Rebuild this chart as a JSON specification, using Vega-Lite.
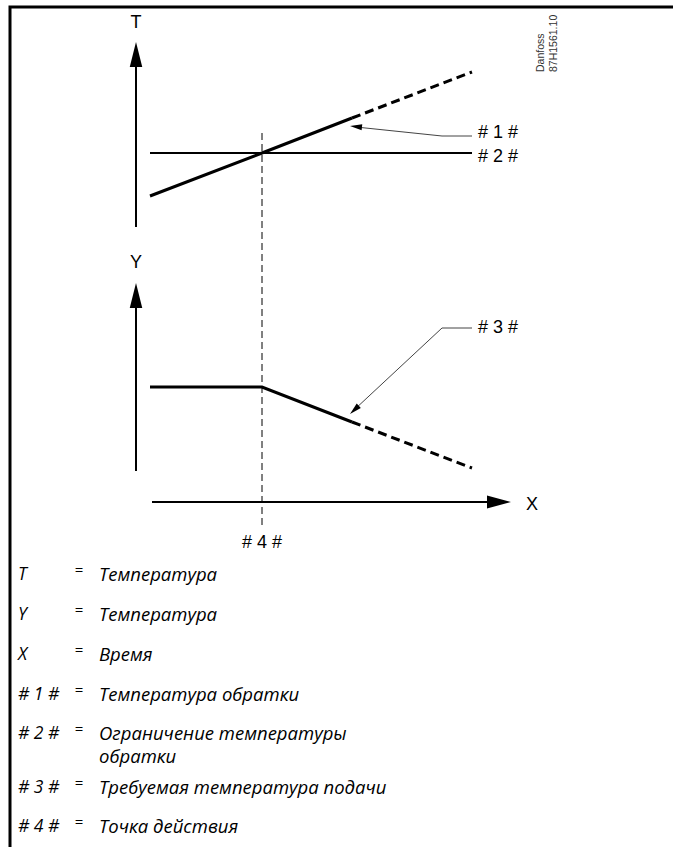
{
  "$schema": "https://vega.github.io/schema/vega-lite/v6.json",
  "width": 673,
  "height": 847,
  "padding": 0,
  "autosize": {"type": "none"},
  "background": "white",
  "config": {"view": {"stroke": null}},
  "datasets": {
    "paths": [
      {"id": "frame", "kind": "frame", "seq": 1, "x": 10, "y": 847},
      {"id": "frame", "kind": "frame", "seq": 2, "x": 10, "y": 7},
      {"id": "frame", "kind": "frame", "seq": 3, "x": 673, "y": 7},
      {"id": "axisT", "kind": "axis", "seq": 1, "x": 136, "y": 227},
      {"id": "axisT", "kind": "axis", "seq": 2, "x": 136, "y": 62},
      {"id": "axisY", "kind": "axis", "seq": 1, "x": 136, "y": 471},
      {"id": "axisY", "kind": "axis", "seq": 2, "x": 136, "y": 302},
      {"id": "axisX", "kind": "axis", "seq": 1, "x": 152, "y": 502},
      {"id": "axisX", "kind": "axis", "seq": 2, "x": 492, "y": 502},
      {"id": "line2", "kind": "limit", "seq": 1, "x": 150, "y": 153},
      {"id": "line2", "kind": "limit", "seq": 2, "x": 472, "y": 153},
      {"id": "line1", "kind": "curve", "seq": 1, "x": 150, "y": 196},
      {"id": "line1", "kind": "curve", "seq": 2, "x": 262, "y": 153},
      {"id": "line1", "kind": "curve", "seq": 3, "x": 352, "y": 118},
      {"id": "line1d", "kind": "curveDash", "seq": 1, "x": 352, "y": 118},
      {"id": "line1d", "kind": "curveDash", "seq": 2, "x": 472, "y": 72},
      {"id": "line3", "kind": "curve", "seq": 1, "x": 150, "y": 387},
      {"id": "line3", "kind": "curve", "seq": 2, "x": 262, "y": 387},
      {"id": "line3", "kind": "curve", "seq": 3, "x": 352, "y": 422},
      {"id": "line3d", "kind": "curveDash", "seq": 1, "x": 352, "y": 422},
      {"id": "line3d", "kind": "curveDash", "seq": 2, "x": 472, "y": 468},
      {"id": "guide", "kind": "guide", "seq": 1, "x": 262, "y": 133},
      {"id": "guide", "kind": "guide", "seq": 2, "x": 262, "y": 527},
      {"id": "lead1", "kind": "leader", "seq": 1, "x": 472, "y": 136},
      {"id": "lead1", "kind": "leader", "seq": 2, "x": 442, "y": 136},
      {"id": "lead1", "kind": "leader", "seq": 3, "x": 356, "y": 127},
      {"id": "lead3", "kind": "leader", "seq": 1, "x": 472, "y": 328},
      {"id": "lead3", "kind": "leader", "seq": 2, "x": 442, "y": 328},
      {"id": "lead3", "kind": "leader", "seq": 3, "x": 354, "y": 410}
    ],
    "heads": [
      {"id": "T", "dir": "up", "x": 136, "y": 42},
      {"id": "Y", "dir": "up", "x": 136, "y": 283},
      {"id": "X", "dir": "right", "x": 511, "y": 502},
      {"id": "lead1", "dir": "lead1", "x": 350, "y": 126},
      {"id": "lead3", "dir": "lead3", "x": 350, "y": 414}
    ],
    "labels": [
      {"text": "T", "pos": "center", "x": 136, "y": 23},
      {"text": "Y", "pos": "center", "x": 136, "y": 263},
      {"text": "X", "pos": "center", "x": 532, "y": 505},
      {"text": "# 4 #", "pos": "center", "x": 262, "y": 543},
      {"text": "# 1 #", "pos": "left", "x": 478, "y": 133},
      {"text": "# 2 #", "pos": "left", "x": 478, "y": 157},
      {"text": "# 3 #", "pos": "left", "x": 478, "y": 328}
    ],
    "code": [
      {"text": "Danfoss", "x": 541, "y": 72},
      {"text": "87H1561.10", "x": 554, "y": 72}
    ],
    "legend": [
      {"key": "T", "desc": "Температура", "x": 18, "y": 575},
      {"key": "Y", "desc": "Температура", "x": 18, "y": 615},
      {"key": "X", "desc": "Время", "x": 18, "y": 655},
      {"key": "# 1 #", "desc": "Температура обратки", "x": 18, "y": 695},
      {"key": "# 2 #", "desc": "Ограничение температуры", "x": 18, "y": 734},
      {"key": "", "desc": "обратки", "x": 18, "y": 757},
      {"key": "# 3 #", "desc": "Требуемая температура подачи", "x": 18, "y": 788},
      {"key": "# 4 #", "desc": "Точка действия", "x": 18, "y": 827}
    ]
  },
  "encoding": {
    "x": {"field": "x", "type": "quantitative", "scale": {"domain": [0, 673], "nice": false, "zero": false}, "axis": null},
    "y": {"field": "y", "type": "quantitative", "scale": {"domain": [0, 847], "nice": false, "zero": false, "reverse": true}, "axis": null}
  },
  "layer": [
    {
      "data": {"name": "paths"},
      "transform": [{"filter": "datum.kind === 'frame'"}],
      "mark": {"type": "line", "color": "black", "strokeWidth": 3, "strokeJoin": "miter"},
      "encoding": {"detail": {"field": "id"}, "order": {"field": "seq", "type": "quantitative"}}
    },
    {
      "data": {"name": "paths"},
      "transform": [{"filter": "datum.kind === 'axis'"}],
      "mark": {"type": "line", "color": "black", "strokeWidth": 2},
      "encoding": {"detail": {"field": "id"}, "order": {"field": "seq", "type": "quantitative"}}
    },
    {
      "data": {"name": "paths"},
      "transform": [{"filter": "datum.kind === 'limit'"}],
      "mark": {"type": "line", "color": "black", "strokeWidth": 2},
      "encoding": {"detail": {"field": "id"}, "order": {"field": "seq", "type": "quantitative"}}
    },
    {
      "data": {"name": "paths"},
      "transform": [{"filter": "datum.kind === 'curve'"}],
      "mark": {"type": "line", "color": "black", "strokeWidth": 3, "strokeJoin": "miter"},
      "encoding": {"detail": {"field": "id"}, "order": {"field": "seq", "type": "quantitative"}}
    },
    {
      "data": {"name": "paths"},
      "transform": [{"filter": "datum.kind === 'curveDash'"}],
      "mark": {"type": "line", "color": "black", "strokeWidth": 3, "strokeDash": [9, 5]},
      "encoding": {"detail": {"field": "id"}, "order": {"field": "seq", "type": "quantitative"}}
    },
    {
      "data": {"name": "paths"},
      "transform": [{"filter": "datum.kind === 'guide'"}],
      "mark": {"type": "line", "color": "black", "strokeWidth": 1, "strokeDash": [7, 4]},
      "encoding": {"detail": {"field": "id"}, "order": {"field": "seq", "type": "quantitative"}}
    },
    {
      "data": {"name": "paths"},
      "transform": [{"filter": "datum.kind === 'leader'"}],
      "mark": {"type": "line", "color": "#444444", "strokeWidth": 1},
      "encoding": {"detail": {"field": "id"}, "order": {"field": "seq", "type": "quantitative"}}
    },
    {
      "data": {"name": "heads"},
      "transform": [{"filter": "datum.dir === 'up'"}],
      "mark": {"type": "point", "shape": "M0,0L0.5,2L-0.5,2Z", "size": 625, "filled": true, "color": "black", "opacity": 1, "strokeWidth": 0}
    },
    {
      "data": {"name": "heads"},
      "transform": [{"filter": "datum.dir === 'right'"}],
      "mark": {"type": "point", "shape": "M0,0L-2,0.55L-2,-0.55Z", "size": 576, "filled": true, "color": "black", "opacity": 1, "strokeWidth": 0}
    },
    {
      "data": {"name": "heads"},
      "transform": [{"filter": "datum.dir === 'lead1'"}],
      "mark": {"type": "point", "shape": "M0,0L-2,0.5L-2,-0.5Z", "size": 144, "angle": 186, "filled": true, "color": "black", "opacity": 1, "strokeWidth": 0}
    },
    {
      "data": {"name": "heads"},
      "transform": [{"filter": "datum.dir === 'lead3'"}],
      "mark": {"type": "point", "shape": "M0,0L-2,0.5L-2,-0.5Z", "size": 144, "angle": 137, "filled": true, "color": "black", "opacity": 1, "strokeWidth": 0}
    },
    {
      "data": {"name": "labels"},
      "transform": [{"filter": "datum.pos === 'center'"}],
      "mark": {"type": "text", "font": "Liberation Sans", "fontSize": 18, "align": "center", "baseline": "middle", "color": "black"},
      "encoding": {"text": {"field": "text"}}
    },
    {
      "data": {"name": "labels"},
      "transform": [{"filter": "datum.pos === 'left'"}],
      "mark": {"type": "text", "font": "Liberation Sans", "fontSize": 18, "align": "left", "baseline": "middle", "color": "black"},
      "encoding": {"text": {"field": "text"}}
    },
    {
      "data": {"name": "code"},
      "mark": {"type": "text", "font": "Liberation Sans", "fontSize": 10.5, "angle": 270, "align": "left", "baseline": "middle", "color": "#333333"},
      "encoding": {"text": {"field": "text"}}
    },
    {
      "data": {"name": "legend"},
      "mark": {"type": "text", "font": "Open Sans", "fontStyle": "italic", "fontSize": 17.5, "align": "left", "baseline": "middle", "color": "black"},
      "encoding": {"text": {"field": "key"}}
    },
    {
      "data": {"name": "legend"},
      "transform": [{"filter": "datum.key !== ''"}],
      "mark": {"type": "text", "font": "Open Sans", "fontSize": 15, "align": "center", "baseline": "middle", "dx": 61, "dy": -5, "color": "black"},
      "encoding": {"text": {"value": "="}}
    },
    {
      "data": {"name": "legend"},
      "mark": {"type": "text", "font": "Open Sans", "fontStyle": "italic", "fontSize": 18.5, "align": "left", "baseline": "middle", "dx": 81, "color": "black"},
      "encoding": {"text": {"field": "desc"}}
    }
  ]
}
